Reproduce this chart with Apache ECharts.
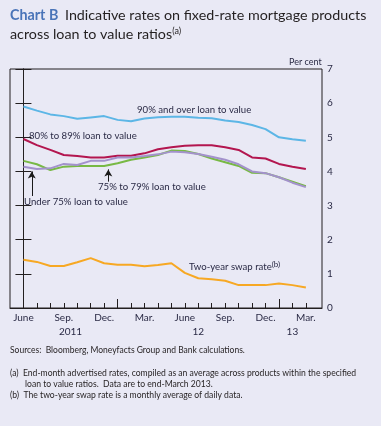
<!DOCTYPE html>
<html><head><meta charset="utf-8">
<script src="https://cdn.jsdelivr.net/npm/echarts@6/dist/echarts.min.js"></script>
<style>html,body{margin:0;padding:0;background:#e9e9f5;}#c{width:381px;height:426px;}</style>
</head><body><div id="c"></div>
<script>
// Months Jun 2011 .. Mar 2013 (22 points)
const months = ['Jun 11','Jul 11','Aug 11','Sep 11','Oct 11','Nov 11','Dec 11','Jan 12','Feb 12','Mar 12','Apr 12','May 12','Jun 12','Jul 12','Aug 12','Sep 12','Oct 12','Nov 12','Dec 12','Jan 13','Feb 13','Mar 13'];
const monthTickLabels = ['June','Sep.','Dec.','Mar.','June','Sep.','Dec.','Mar.'];
const monthTickIdx = [0,3,6,9,12,15,18,21];
const yearLabels = ['2011','12','13'];
const yearLabelIdx = [3.5,13,20];
const yearTickIdx = [7,19];
const ltv90 = [5.90,5.78,5.67,5.62,5.54,5.58,5.62,5.51,5.47,5.55,5.59,5.60,5.60,5.57,5.56,5.49,5.45,5.36,5.24,5.00,4.94,4.90];
const ltv80 = [4.95,4.77,4.63,4.48,4.45,4.41,4.41,4.46,4.46,4.53,4.65,4.71,4.75,4.77,4.77,4.71,4.63,4.41,4.38,4.22,4.14,4.07];
const ltv75 = [4.31,4.21,4.04,4.14,4.16,4.16,4.16,4.24,4.34,4.41,4.48,4.61,4.60,4.51,4.38,4.27,4.16,3.96,3.95,3.83,3.70,3.57];
const ltvUnder75 = [4.14,4.07,4.09,4.22,4.19,4.31,4.31,4.41,4.41,4.45,4.50,4.58,4.56,4.51,4.43,4.34,4.21,4.00,3.95,3.83,3.67,3.54];
const swap2y = [1.41,1.35,1.23,1.23,1.34,1.46,1.31,1.27,1.27,1.22,1.26,1.31,1.03,0.87,0.84,0.80,0.67,0.67,0.67,0.72,0.67,0.60];

const FONT = 'Lato';
const pts = arr => arr.map((v,i)=>[i,v]);
const chart = echarts.init(document.getElementById('c'));
const mkLine = (name, data, color) => ({
  name, type:'line', data: pts(data), symbol:'none', xAxisIndex:0, yAxisIndex:0,
  lineStyle:{color, width:2}, itemStyle:{color}, animation:false, z:3
});
const arrowLine = (x, y0, y1) => [{coord:[x,y0], symbol:'none'},{coord:[x,y1], symbol:'arrow'}];
const swapSeries = mkLine('Two-year swap rate', swap2y, '#f7a823');
const s75 = mkLine('75% to 79% loan to value', ltv75, '#78b945');
s75.markLine = {
  silent:true, symbolSize:[6,7], animation:false,
  lineStyle:{color:'#1a1a1a', width:1, type:'solid'}, label:{show:false},
  data:[arrowLine(6.31,3.70,4.06), arrowLine(0.62,3.28,4.00)]
};
chart.setOption({
  backgroundColor:'#e9e9f5',
  animation:false,
  textStyle:{fontFamily:FONT},
  grid:{left:10, right:59, top:69, bottom:118, show:true, borderColor:'#231f20', borderWidth:1, backgroundColor:'transparent'},
  xAxis:[{
    type:'value', min:-1, max:22.2, position:'bottom',
    axisLine:{show:true, lineStyle:{color:'#231f20', width:1}},
    axisTick:{show:true, inside:true, length:5, customValues: months.map((m,i)=>i), lineStyle:{color:'#231f20'}},
    axisLabel:{customValues: monthTickIdx, margin:5, fontSize:10, color:'#2a2a45', fontFamily:FONT,
      formatter: v => monthTickLabels[monthTickIdx.indexOf(Math.round(v))] || ''},
    splitLine:{show:false}
  },{
    type:'value', min:-1, max:22.2, position:'bottom',
    axisLine:{show:false},
    axisTick:{show:true, inside:true, length:9, customValues: yearTickIdx, lineStyle:{color:'#231f20'}},
    axisLabel:{customValues: yearLabelIdx, margin:19, fontSize:10, color:'#2a2a45', fontFamily:FONT,
      formatter: v => { const k = yearLabelIdx.findIndex(x=>Math.abs(x-v)<0.01); return k>=0 ? yearLabels[k] : ''; }},
    splitLine:{show:false}
  }],
  yAxis:[{
    type:'value', min:0, max:7, interval:1, position:'right',
    axisLine:{show:true, lineStyle:{color:'#231f20'}},
    axisTick:{show:true, inside:true, length:8, lineStyle:{color:'#231f20'}},
    axisLabel:{margin:5, fontSize:10, color:'#2a2a45', fontFamily:FONT},
    splitLine:{show:false}
  },{
    type:'value', min:0, max:7, interval:1, position:'left',
    axisLine:{show:true, lineStyle:{color:'#231f20'}},
    axisTick:{show:true, inside:true, length:8, lineStyle:{color:'#231f20'}},
    axisLabel:{show:false},
    splitLine:{show:false}
  }],
  series:[
    mkLine('90% and over loan to value', ltv90, '#5cb6e6'),
    mkLine('80% to 89% loan to value', ltv80, '#b3164f'),
    s75,
    mkLine('Under 75% loan to value', ltvUnder75, '#a392cc'),
    swapSeries
  ],
  graphic:[
    {type:'text', left:10, top:8, style:{
      text:'{b|Chart B}  {n|Indicative rates on fixed-rate mortgage products}',
      rich:{b:{fontFamily:FONT, fontSize:14.3, fontWeight:'bold', fill:'#4a74b8'}, n:{fontFamily:FONT, fontSize:14.3, fill:'#231f20'}}}},
    {type:'text', left:10, top:27, style:{
      text:'{n|across loan to value ratios}{s|(a)}',
      rich:{n:{fontFamily:FONT, fontSize:14.3, fill:'#231f20'}, s:{fontFamily:FONT, fontSize:9, fill:'#231f20', verticalAlign:'top', padding:[0,0,6,0]}}}},
    {type:'text', left:289, top:58, style:{text:'Per cent', fontFamily:FONT, fontSize:9, fill:'#2a2a45'}},
    {type:'text', left:137, top:105, style:{text:'90% and over loan to value', fontFamily:FONT, fontSize:9.6, fill:'#2a2a45'}},
    {type:'text', left:29, top:131, style:{text:'80% to 89% loan to value', fontFamily:FONT, fontSize:9.6, fill:'#2a2a45'}},
    {type:'text', left:98, top:182, style:{text:'75% to 79% loan to value', fontFamily:FONT, fontSize:9.6, fill:'#2a2a45'}},
    {type:'text', left:24, top:197, style:{text:'Under 75% loan to value', fontFamily:FONT, fontSize:9.6, fill:'#2a2a45'}},
    {type:'text', left:189, top:260, style:{text:'{n|Two-year swap rate}{s|(b)}',
      rich:{n:{fontFamily:FONT, fontSize:9.6, fill:'#2a2a45'}, s:{fontFamily:FONT, fontSize:8, fill:'#2a2a45', verticalAlign:'top', padding:[0,0,5,0]}}}},
    {type:'text', left:10, top:346, style:{text:'Sources:  Bloomberg, Moneyfacts Group and Bank calculations.', fontFamily:FONT, fontSize:8.5, fill:'#231f20'}},
    {type:'text', left:10, top:369, style:{text:'(a)  End-month advertised rates, compiled as an average across products within the specified', fontFamily:FONT, fontSize:8.6, fill:'#231f20'}},
    {type:'text', left:25, top:380, style:{text:'loan to value ratios.  Data are to end-March 2013.', fontFamily:FONT, fontSize:8.6, fill:'#231f20'}},
    {type:'text', left:10, top:391, style:{text:'(b)  The two-year swap rate is a monthly average of daily data.', fontFamily:FONT, fontSize:8.6, fill:'#231f20'}}
  ]
});
</script></body></html>
